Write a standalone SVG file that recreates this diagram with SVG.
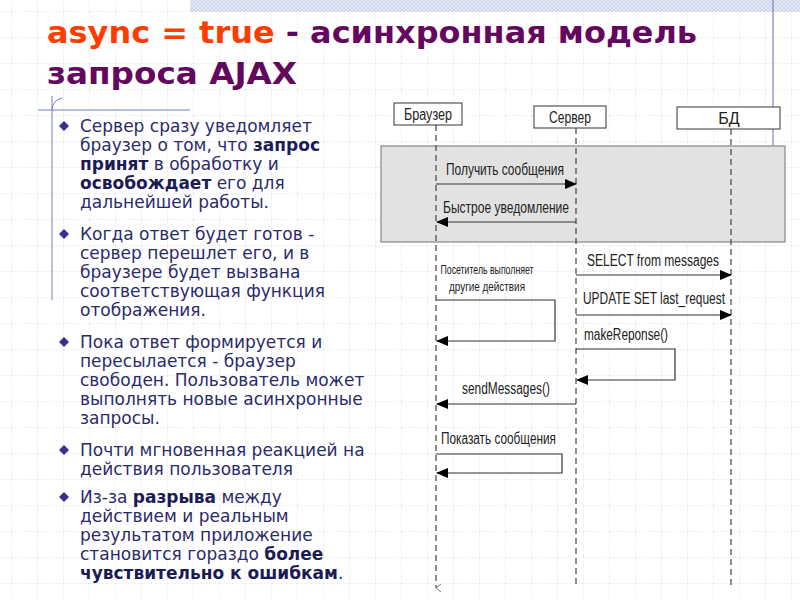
<svg xmlns="http://www.w3.org/2000/svg" width="800" height="600" viewBox="0 0 800 600">
<defs>
<pattern id="grid" width="26" height="26" patternUnits="userSpaceOnUse" x="12" y="12">
<path d="M26 0V26M0 26H26" fill="none" stroke="#c9cfe0" stroke-width="0.8" stroke-dasharray="1.5,1.5"/>
</pattern>
<pattern id="hatch" width="4" height="4" patternUnits="userSpaceOnUse">
<rect width="4" height="4" fill="#e6ebf5"/><path d="M0 0L4 4M4 0L0 4" stroke="#b8c4e0" stroke-width="0.6"/>
</pattern>
<marker id="ah" markerWidth="12" markerHeight="10" refX="11" refY="5" orient="auto" markerUnits="userSpaceOnUse">
<path d="M0 0L12 5L0 10Z" fill="#000"/>
</marker>
<marker id="sm" markerWidth="10" markerHeight="8" refX="5" refY="6" orient="auto" markerUnits="userSpaceOnUse">
<path d="M1 1L5 6L9 1" fill="none" stroke="#777" stroke-width="1"/>
</marker>
</defs>
<style>
.t{font-family:"DejaVu Sans",Verdana,sans-serif;font-size:17px;fill:#2b2b6b}
.b{font-weight:bold;fill:#1c1c55}
.d{font-family:"Liberation Sans",Arial,sans-serif;font-size:16px;fill:#222}
.h{font-family:"DejaVu Sans",Verdana,sans-serif;font-size:31px;font-weight:bold;fill:#64075f}
.box{fill:#fff;stroke:#555;stroke-width:1.2}
.life{stroke:#444;stroke-width:1.2;stroke-dasharray:6,4;fill:none}
.msg{stroke:#333;stroke-width:1.2;fill:none;marker-end:url(#ah)}
</style>
<rect width="800" height="600" fill="#fff"/>
<rect width="800" height="600" fill="url(#grid)"/>
<rect x="190" y="0" width="610" height="12" fill="url(#hatch)"/>
<line x1="773" y1="0" x2="773" y2="207" stroke="#6070b0" stroke-width="1"/>
<path d="M38 110H190M52 96V300" stroke="#7080c0" stroke-width="1" fill="none"/>
<path d="M62 98A12 12 0 0 0 52 110" stroke="#7080c0" fill="none"/>
<text class="h" x="47" y="43" textLength="650" lengthAdjust="spacingAndGlyphs"><tspan fill="#ff3c00">async = true</tspan> - асинхронная модель</text>
<text class="h" x="47" y="84" textLength="250" lengthAdjust="spacingAndGlyphs">запроса AJAX</text>
<g id="bullets" fill="#3a2f8f">
<path d="M64 121l5 5-5 5-5-5z"/><path d="M64 229l5 5-5 5-5-5z"/><path d="M64 337l5 5-5 5-5-5z"/><path d="M64 445l5 5-5 5-5-5z"/><path d="M64 492l5 5-5 5-5-5z"/>
</g>
<g id="text" class="t">
<text x="80" y="132">Сервер сразу уведомляет</text>
<text x="80" y="151">браузер о том, что <tspan class="b">запрос</tspan></text>
<text x="80" y="170"><tspan class="b">принят</tspan> в обработку и</text>
<text x="80" y="189"><tspan class="b">освобождает</tspan> его для</text>
<text x="80" y="208">дальнейшей работы.</text>
<text x="80" y="240">Когда ответ будет готов -</text>
<text x="80" y="259">сервер перешлет его, и в</text>
<text x="80" y="278">браузере будет вызвана</text>
<text x="80" y="297">соответствующая функция</text>
<text x="80" y="316">отображения.</text>
<text x="80" y="348">Пока ответ формируется и</text>
<text x="80" y="367">пересылается - браузер</text>
<text x="80" y="386">свободен. Пользователь может</text>
<text x="80" y="405">выполнять новые асинхронные</text>
<text x="80" y="424">запросы.</text>
<text x="80" y="456">Почти мгновенная реакцией на</text>
<text x="80" y="475">действия пользователя</text>
<text x="80" y="503">Из-за <tspan class="b">разрыва</tspan> между</text>
<text x="80" y="522">действием и реальным</text>
<text x="80" y="541">результатом приложение</text>
<text x="80" y="560">становится гораздо <tspan class="b">более</tspan></text>
<text x="80" y="579"><tspan class="b">чувствительно к ошибкам</tspan>.</text>
</g>
<rect x="381" y="146" width="404" height="96" fill="#e2e2e2" stroke="#888" stroke-width="1.2"/>
<g id="browser"><rect class="box" x="394" y="103" width="68" height="22"/><text class="d" x="428" y="120" text-anchor="middle" textLength="48" lengthAdjust="spacingAndGlyphs">Браузер</text></g>
<g id="server"><rect class="box" x="534" y="106" width="72" height="22"/><text class="d" x="570" y="123" text-anchor="middle" textLength="42" lengthAdjust="spacingAndGlyphs">Сервер</text></g>
<g id="db"><rect class="box" x="677" y="107" width="103" height="22"/><text class="d" x="729" y="124" text-anchor="middle">БД</text></g>
<g id="connectors">
<path class="life" d="M436 125V588" style="marker-end:url(#sm)"/>
<path class="life" d="M576 128V586"/>
<path class="life" d="M731 129V588"/>
<path class="msg" d="M436 184H576"/>
<path class="msg" d="M576 222H437"/>
<path class="msg" d="M576 275H731"/>
<path class="msg" d="M436 300H555V341H437"/>
<path class="msg" d="M576 315H731"/>
<path class="msg" d="M576 349H675V380H577"/>
<path class="msg" d="M576 404H437"/>
<path class="msg" d="M436 454H562V473H437"/>
</g>
<g id="labels" class="d">
<text x="446" y="175" textLength="118" lengthAdjust="spacingAndGlyphs">Получить сообщения</text>
<text x="443" y="213" textLength="126" lengthAdjust="spacingAndGlyphs">Быстрое уведомление</text>
<text x="587" y="266" textLength="132" lengthAdjust="spacingAndGlyphs">SELECT from messages</text>
<text x="487" y="274" text-anchor="middle" font-size="12" textLength="93" lengthAdjust="spacingAndGlyphs">Посетитель выполняет</text>
<text x="487" y="291" text-anchor="middle" font-size="12" textLength="76" lengthAdjust="spacingAndGlyphs">другие действия</text>
<text x="583" y="304" textLength="142" lengthAdjust="spacingAndGlyphs">UPDATE SET last_request</text>
<text x="584" y="340" textLength="84" lengthAdjust="spacingAndGlyphs">makeReponse()</text>
<text x="462" y="394" textLength="88" lengthAdjust="spacingAndGlyphs">sendMessages()</text>
<text x="441" y="444" textLength="115" lengthAdjust="spacingAndGlyphs">Показать сообщения</text>
</g>
</svg>
